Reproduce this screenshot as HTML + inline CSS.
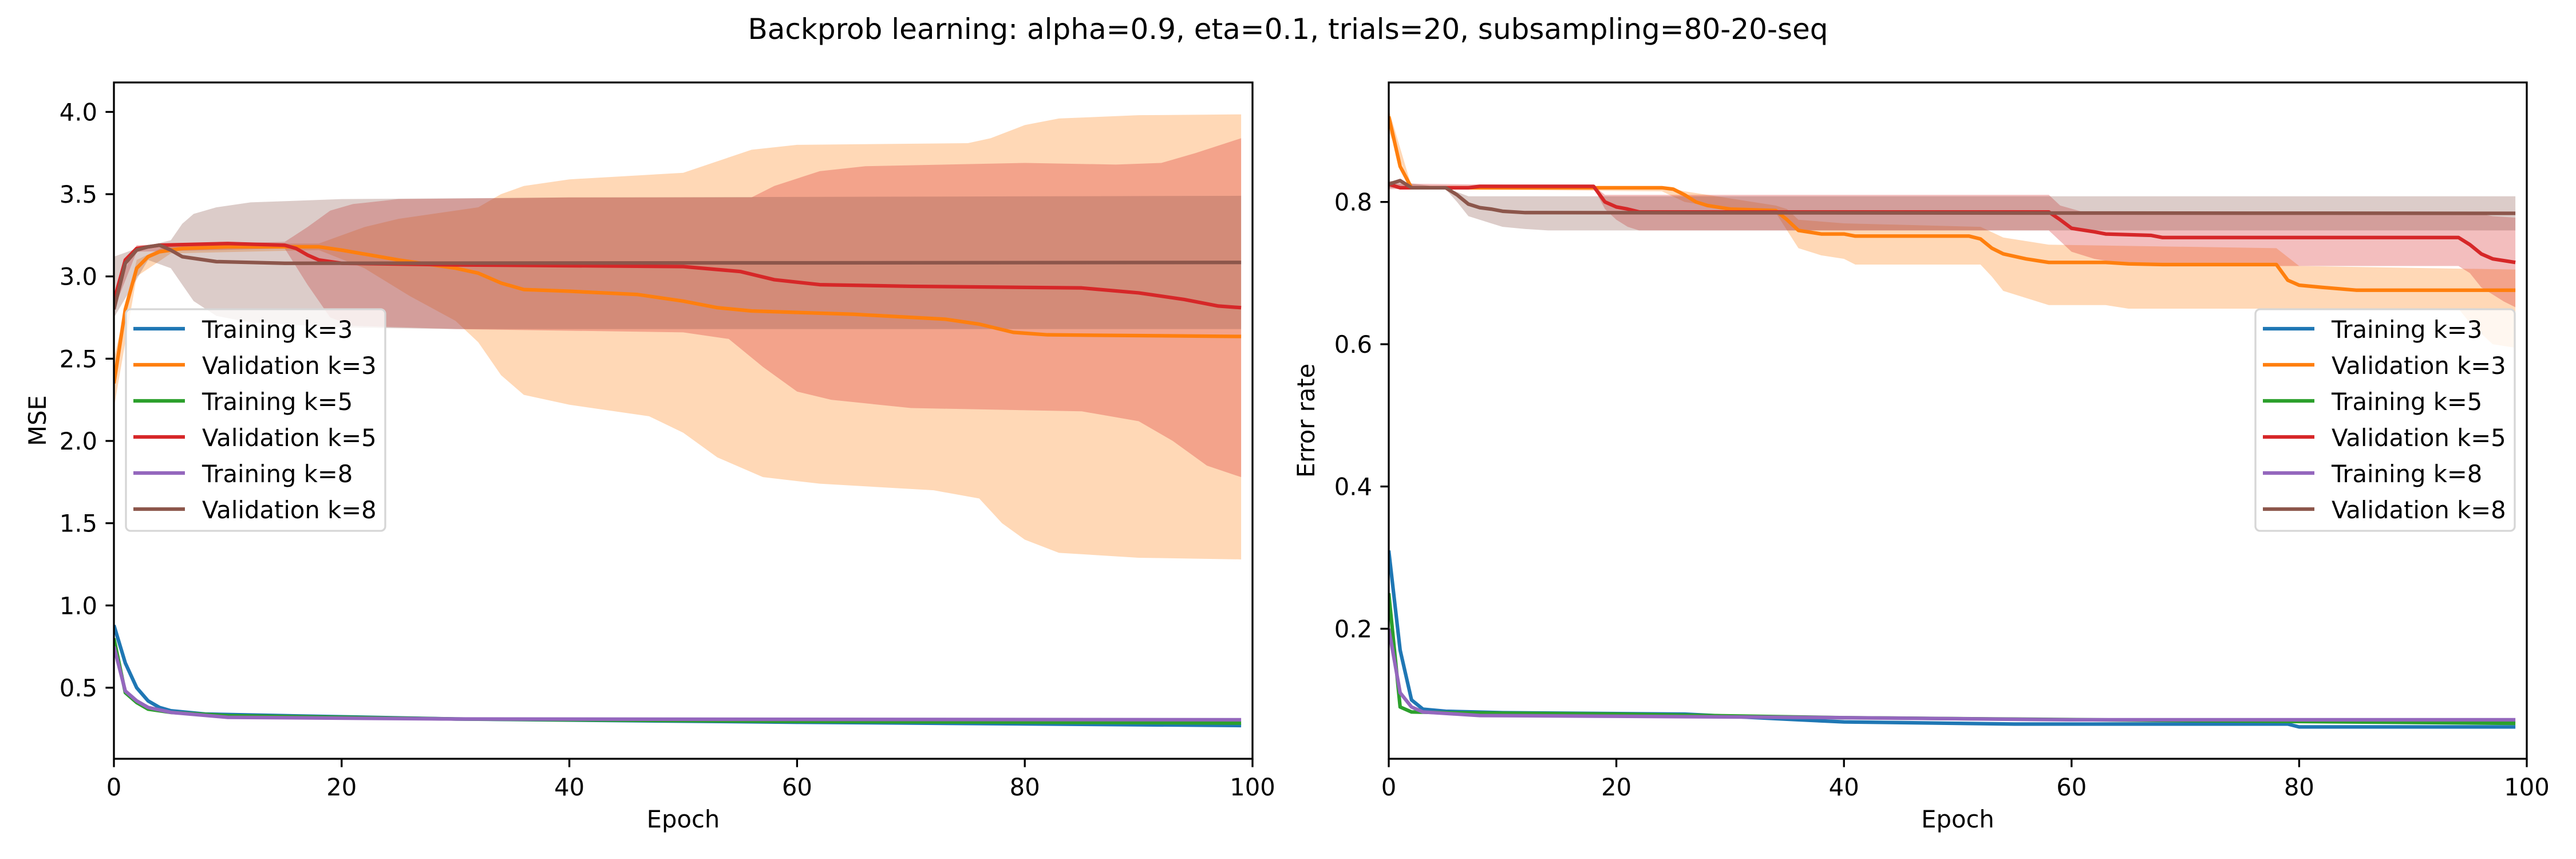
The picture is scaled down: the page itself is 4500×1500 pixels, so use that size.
<!DOCTYPE html>
<html><head><meta charset="utf-8">
<style>
html,body{margin:0;padding:0;background:#fff;}
svg{display:block;font-family:"DejaVu Sans","Liberation Sans",sans-serif;}
</style></head>
<body>
<svg id="fig" width="4500" height="1500" viewBox="0 0 4500 1500" xmlns="http://www.w3.org/2000/svg">
<rect width="4500" height="1500" fill="#fff"/>
<text x="2250" y="68" font-size="50" text-anchor="middle">Backprob learning: alpha=0.9, eta=0.1, trials=20, subsampling=80-20-seq</text>
</svg>
<script>
// ---------- data: MSE panel ----------
const mseTrain3 = [[0,0.88],[1,0.65],[2,0.5],[3,0.42],[4,0.38],[5,0.36],[8,0.34],[15,0.33],[30,0.31],[60,0.29],[80,0.28],[99,0.27]];
const mseTrain5 = [[0,0.8],[1,0.47],[2,0.41],[3,0.37],[5,0.35],[10,0.33],[30,0.31],[60,0.295],[99,0.285]];
const mseTrain8 = [[0,0.75],[1,0.48],[2,0.42],[3,0.38],[5,0.35],[10,0.32],[30,0.31],[99,0.305]];
const mseVal3 = [[0,2.35],[1,2.8],[2,3.05],[3,3.12],[4,3.15],[6,3.17],[10,3.18],[18,3.18],[20,3.16],[25,3.1],[30,3.05],[32,3.02],[34,2.96],[36,2.92],[40,2.91],[46,2.89],[50,2.85],[53,2.81],[56,2.79],[65,2.77],[73,2.74],[76,2.71],[79,2.66],[82,2.645],[99,2.635]];
const mseVal3Hi = [[0,2.5],[2,3.1],[5,3.2],[18,3.2],[20,3.25],[22,3.3],[25,3.35],[28,3.38],[32,3.42],[34,3.5],[36,3.55],[40,3.59],[45,3.61],[50,3.63],[53,3.7],[56,3.77],[60,3.8],[75,3.81],[77,3.84],[80,3.92],[83,3.96],[90,3.98],[99,3.985]];
const mseVal3Lo = [[0,2.2],[2,3.0],[5,3.14],[18,3.16],[22,3.05],[26,2.88],[30,2.73],[32,2.6],[34,2.4],[36,2.28],[40,2.22],[47,2.15],[50,2.05],[53,1.9],[57,1.78],[62,1.74],[72,1.7],[76,1.65],[78,1.5],[80,1.4],[83,1.32],[90,1.29],[99,1.28]];
const mseVal5 = [[0,2.85],[1,3.1],[2,3.17],[4,3.19],[10,3.2],[15,3.19],[16,3.17],[17,3.13],[18,3.1],[20,3.08],[30,3.07],[50,3.06],[55,3.03],[58,2.98],[62,2.95],[70,2.94],[85,2.93],[90,2.9],[94,2.86],[97,2.82],[99,2.81]];
const mseVal5Hi = [[0,2.9],[2,3.19],[15,3.21],[17,3.3],[19,3.4],[21,3.44],[25,3.47],[40,3.48],[56,3.48],[58,3.55],[62,3.64],[66,3.67],[80,3.69],[88,3.68],[92,3.69],[95,3.75],[99,3.84]];
const mseVal5Lo = [[0,2.8],[2,3.15],[15,3.17],[17,2.95],[19,2.75],[21,2.7],[30,2.68],[50,2.66],[54,2.62],[57,2.45],[60,2.3],[63,2.25],[70,2.2],[85,2.18],[90,2.12],[93,2.0],[96,1.85],[99,1.78]];
const mseVal8 = [[0,2.8],[1,3.08],[2,3.16],[3,3.18],[4,3.19],[5,3.16],[6,3.12],[9,3.09],[15,3.08],[99,3.085]];
const mseVal8Hi = [[0,3.12],[2,3.17],[5,3.22],[6,3.32],[7,3.38],[9,3.42],[12,3.45],[20,3.47],[40,3.48],[99,3.49]];
const mseVal8Lo = [[0,2.75],[3,3.1],[5,3.05],[6,2.95],[7,2.85],[9,2.76],[12,2.72],[20,2.69],[30,2.68],[99,2.68]];
const mseTicksY = [0.5,1.0,1.5,2.0,2.5,3.0,3.5,4.0];
const mseTickLabelsY = ["0.5","1.0","1.5","2.0","2.5","3.0","3.5","4.0"];
// ---------- data: error-rate panel ----------
const errTrain3 = [[0,0.31],[1,0.17],[2,0.1],[3,0.087],[5,0.084],[10,0.082],[26,0.08],[36,0.072],[40,0.069],[55,0.066],[79,0.066],[80,0.062],[99,0.062]];
const errTrain5 = [[0,0.25],[1,0.09],[2,0.083],[5,0.082],[20,0.08],[40,0.075],[99,0.067]];
const errTrain8 = [[0,0.2],[1,0.11],[2,0.09],[3,0.083],[8,0.078],[20,0.077],[40,0.075],[60,0.072],[99,0.072]];
const errVal3 = [[0,0.92],[1,0.85],[2,0.82],[24,0.82],[25,0.818],[26,0.81],[27,0.8],[28,0.795],[30,0.79],[34,0.788],[35,0.775],[36,0.76],[38,0.755],[40,0.755],[41,0.752],[51,0.752],[52,0.748],[53,0.735],[54,0.727],[56,0.72],[58,0.715],[63,0.715],[65,0.713],[68,0.712],[78,0.712],[79,0.69],[80,0.683],[82,0.68],[85,0.676],[99,0.676]];
const errVal3Hi = [[0,0.93],[2,0.822],[24,0.822],[26,0.815],[34,0.795],[35,0.79],[36,0.775],[40,0.77],[52,0.765],[54,0.75],[58,0.74],[78,0.735],[80,0.71],[99,0.705]];
const errVal3Lo = [[0,0.9],[2,0.818],[24,0.815],[26,0.8],[30,0.79],[34,0.785],[35,0.76],[36,0.735],[38,0.725],[40,0.72],[41,0.712],[52,0.712],[53,0.695],[54,0.675],[56,0.665],[58,0.655],[63,0.655],[65,0.65],[94,0.65],[95,0.63],[97,0.6],[99,0.595]];
const errVal5 = [[0,0.825],[1,0.82],[7,0.82],[8,0.822],[18,0.822],[19,0.8],[20,0.793],[21,0.79],[22,0.786],[58,0.786],[59,0.775],[60,0.763],[62,0.758],[63,0.755],[67,0.753],[68,0.75],[94,0.75],[95,0.74],[96,0.727],[97,0.72],[99,0.715]];
const errVal5Hi = [[0,0.826],[18,0.823],[19,0.81],[58,0.81],[59,0.795],[61,0.786],[95,0.786],[97,0.78],[99,0.778]];
const errVal5Lo = [[0,0.818],[18,0.82],[19,0.79],[20,0.775],[21,0.765],[22,0.76],[58,0.76],[59,0.745],[60,0.73],[62,0.72],[65,0.712],[67,0.71],[94,0.71],[95,0.7],[96,0.68],[98,0.66],[99,0.652]];
const errVal8 = [[0,0.825],[1,0.83],[2,0.82],[5,0.82],[6,0.81],[7,0.797],[8,0.792],[9,0.79],[10,0.787],[12,0.785],[99,0.784]];
const errVal8Hi = [[0,0.83],[5,0.82],[7,0.808],[99,0.808]];
const errVal8Lo = [[0,0.82],[5,0.818],[6,0.8],[7,0.78],[9,0.77],[10,0.765],[12,0.762],[14,0.76],[99,0.76]];
const errTicksY = [0.2,0.4,0.6,0.8];
const errTickLabelsY = ["0.2","0.4","0.6","0.8"];
const ticksX = [0,20,40,60,80,100];
const tickLabelsX = ["0","20","40","60","80","100"];
const legendLabels = ["Training k=3","Validation k=3","Training k=5","Validation k=5","Training k=8","Validation k=8"];

const NS = "http://www.w3.org/2000/svg";
const svg = document.getElementById("fig");
const COLORS = ["#1f77b4","#ff7f0e","#2ca02c","#d62728","#9467bd","#8c564b"];
function mk(tag, attrs, parent){const e=document.createElementNS(NS,tag);for(const k in attrs)e.setAttribute(k,attrs[k]);(parent||svg).appendChild(e);return e;}

function panel(cfg){
  const L=cfg.left,R=cfg.right,T=144,B=1325;
  const sx=v=>L+(v-0)/(100-0)*(R-L);
  const sy=v=>B-(v-cfg.ymin)/(cfg.ymax-cfg.ymin)*(B-T);
  const g=mk("g",{});
  
  
  const clip=mk("clipPath",{id:cfg.name+"-clip"},g);
  mk("rect",{x:L,y:T,width:R-L,height:B-T},clip);
  const plot=mk("g",{"clip-path":"url(#"+cfg.name+"-clip)"},g);
  // bands
  cfg.bands.forEach(b=>{
    const pts=b.hi.map(p=>sx(p[0])+","+sy(p[1])).concat(b.lo.slice().reverse().map(p=>sx(p[0])+","+sy(p[1])));
    const poly=mk("polygon",{points:pts.join(" "),fill:COLORS[b.c],"fill-opacity":0.3,stroke:"none"},plot);
    
    
  });
  cfg.lines.forEach(l=>{
    const pl=mk("polyline",{points:l.d.map(p=>sx(p[0])+","+sy(p[1])).join(" "),fill:"none",stroke:COLORS[l.c],"stroke-width":6.25,"stroke-linejoin":"round","stroke-linecap":"butt"},plot);
    
    
  });
  // frame
  const fr=mk("rect",{x:L,y:T,width:R-L,height:B-T,fill:"none",stroke:"#000","stroke-width":3.3},g);
  
  
  ticksX.forEach((t,i)=>{
    mk("line",{x1:sx(t),x2:sx(t),y1:B,y2:B+14.6,stroke:"#000","stroke-width":3.3},g);
    const tx=mk("text",{x:sx(t),y:B+64,"font-size":41.7,"text-anchor":"middle"},g);
    tx.textContent=tickLabelsX[i];
    
    
  });
  cfg.ticksY.forEach((t,i)=>{
    mk("line",{x1:L-14.6,x2:L,y1:sy(t),y2:sy(t),stroke:"#000","stroke-width":3.3},g);
    const ty=mk("text",{x:L-29,y:sy(t)+15,"font-size":41.7,"text-anchor":"end"},g);
    ty.textContent=cfg.tickLabelsY[i];
    
    
  });
  const xl=mk("text",{x:(L+R)/2,y:1445,"font-size":41.7,"text-anchor":"middle"},g);
  xl.textContent="Epoch";
  
  
  const yl=mk("text",{x:0,y:0,"font-size":41.7,"text-anchor":"middle",transform:"translate("+cfg.ylabX+","+((T+B)/2)+") rotate(-90)"},g);
  yl.textContent=cfg.ylabel;
  
  
  // legend
  const lx=cfg.legX, ly=540, lw=453, lh=387;
  const lg=mk("g",{},g);
  
  
  mk("rect",{x:lx,y:ly,width:lw,height:lh,rx:8,fill:"#fff","fill-opacity":0.8,stroke:"#d6d6d6","stroke-width":3.3},lg);
  legendLabels.forEach((s,i)=>{
    const yy=ly+34+i*63;
    const e=mk("g",{},lg);
    
    
    mk("line",{x1:lx+13,x2:lx+103,y1:yy,y2:yy,stroke:COLORS[i],"stroke-width":6.25},e);
    const t=mk("text",{x:lx+133,y:yy+16,"font-size":41.7},e);
    t.textContent=s;
  });
}

panel({name:"mse-panel",left:199,right:2188,ymin:0.068,ymax:4.179,ticksY:mseTicksY,tickLabelsY:mseTickLabelsY,ylabel:"MSE",ylabX:80,legX:220,
  bands:[{name:"band-val-k3",c:1,hi:mseVal3Hi,lo:mseVal3Lo},{name:"band-val-k5",c:3,hi:mseVal5Hi,lo:mseVal5Lo},{name:"band-val-k8",c:5,hi:mseVal8Hi,lo:mseVal8Lo}],
  lines:[{name:"line-train-k3",c:0,d:mseTrain3},{name:"line-val-k3",c:1,d:mseVal3},{name:"line-train-k5",c:2,d:mseTrain5},{name:"line-val-k5",c:3,d:mseVal5},{name:"line-train-k8",c:4,d:mseTrain8},{name:"line-val-k8",c:5,d:mseVal8}]});
panel({name:"error-panel",left:2426,right:4414,ymin:0.0172,ymax:0.968,ticksY:errTicksY,tickLabelsY:errTickLabelsY,ylabel:"Error rate",ylabX:2296,legX:3940,
  bands:[{name:"band-val-k3",c:1,hi:errVal3Hi,lo:errVal3Lo},{name:"band-val-k5",c:3,hi:errVal5Hi,lo:errVal5Lo},{name:"band-val-k8",c:5,hi:errVal8Hi,lo:errVal8Lo}],
  lines:[{name:"line-train-k3",c:0,d:errTrain3},{name:"line-val-k3",c:1,d:errVal3},{name:"line-train-k5",c:2,d:errTrain5},{name:"line-val-k5",c:3,d:errVal5},{name:"line-train-k8",c:4,d:errTrain8},{name:"line-val-k8",c:5,d:errVal8}]});
</script>
</body></html>
